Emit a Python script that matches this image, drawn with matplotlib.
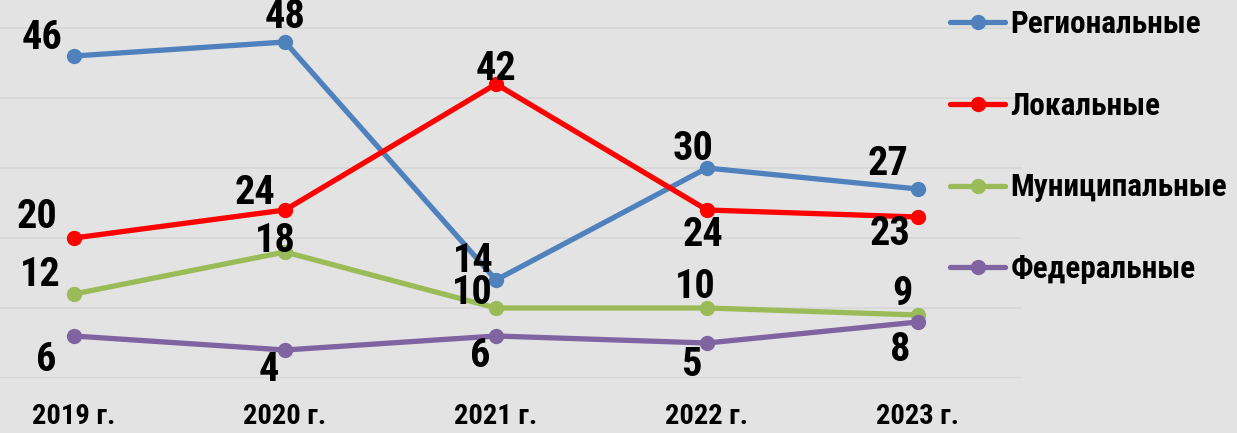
import matplotlib.pyplot as plt

years = ["2019 г.", "2020 г.", "2021 г.", "2022 г.", "2023 г."]
regional = [46, 48, 14, 30, 27]
local = [20, 24, 42, 24, 23]
municipal = [12, 18, 10, 10, 9]
federal = [6, 4, 6, 5, 8]

names = ["Региональные", "Локальные", "Муниципальные", "Федеральные"]
colors = ["#4f81bd", "#ff0000", "#9bbb59", "#8064a2"]

# label offsets in pixels (dx, dy) for each point of each series
offsets = [
    [(-32, 18), (0, 25), (-23, 19), (-14, 19), (-30, 25)],
    [(-37, 21), (-30, 17), (0, 15), (-4, -25), (-28, -17)],
    [(-34, 19), (-10, 11), (-24, 15), (-12, 21), (-16, 21)],
    [(-28, -24), (-16, -20), (-16, -20), (-16, -22), (-18, -28)],
]

plt.rcParams['font.family'] = ['Liberation Sans Narrow', 'Roboto Condensed', 'Liberation Sans', 'DejaVu Sans']
plt.rcParams['font.weight'] = 'bold'

bg = "#e3e3e3"
fig = plt.figure(figsize=(12.37, 4.33), dpi=100, facecolor=bg)
ax = fig.add_axes([0, 55 / 433, 1022 / 1237, 378 / 433])
ax.set_facecolor(bg)

x = list(range(len(years)))
for vals, name, c, offs in zip([regional, local, municipal, federal], names, colors, offsets):
    ax.plot(x, vals, color=c, lw=3.8, marker="o", ms=10, label=name, solid_capstyle="round")
    for xi, v, (dx, dy) in zip(x, vals, offs):
        ax.annotate(str(v), (xi, v), xytext=(dx, dy), textcoords="offset pixels",
                    ha="center", va="center", fontsize=29, fontweight="bold", color="black")

ax.set_xlim(-74 / 211, 948 / 211)
ax.set_ylim(0, 54)
ax.set_yticks([0, 10, 20, 30, 40, 50])
ax.set_yticklabels([])
ax.grid(axis="y", color="#d6d6d6", lw=1.2)
ax.set_axisbelow(True)
ax.set_xticks(x)
ax.set_xticklabels(years, fontsize=20.5, fontweight="bold")
ax.tick_params(length=0, pad=18)
for s in ax.spines.values():
    s.set_visible(False)

fig.legend(loc="upper left", bbox_to_anchor=(941 / 1237, 1.0), frameon=False,
           borderaxespad=0, borderpad=0.3, handlelength=1.76, labelspacing=1.65,
           handletextpad=0.16, prop={"weight": "bold", "size": 22.5})

fig.savefig("out.png", dpi=100, facecolor=bg)
